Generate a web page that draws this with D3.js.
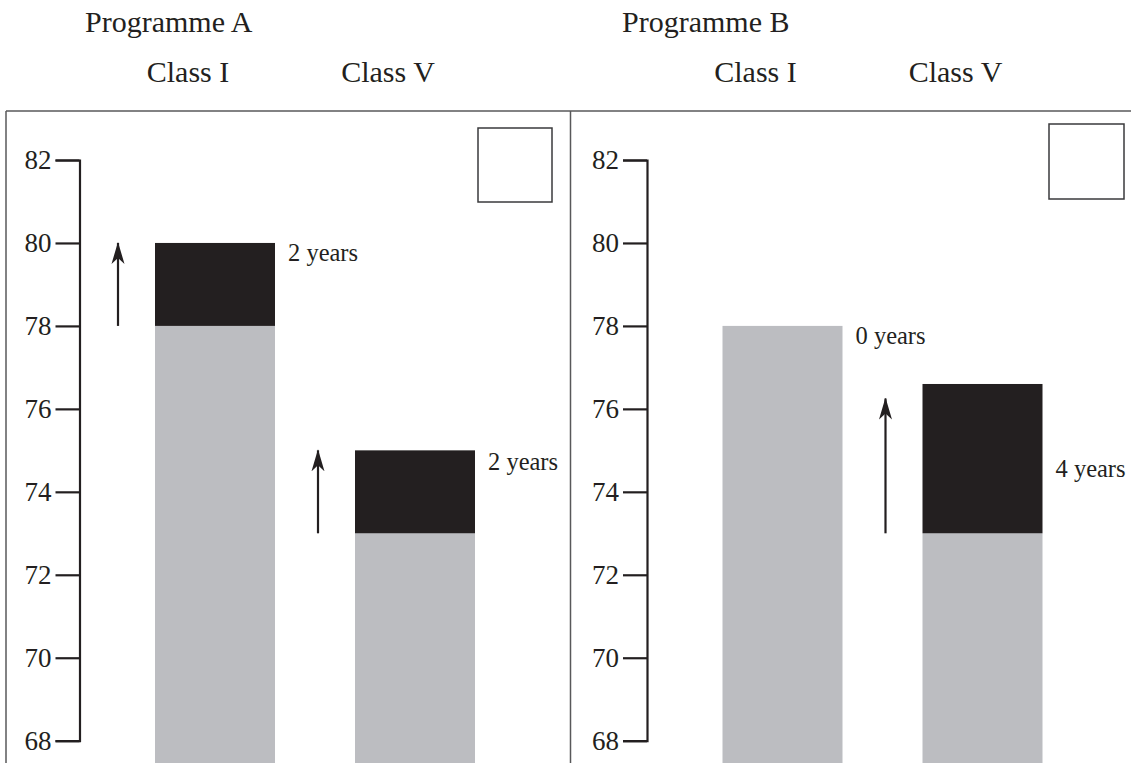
<!DOCTYPE html>
<html>
<head>
<meta charset="utf-8">
<script src="https://cdn.jsdelivr.net/npm/d3@7"></script>
<style>
  html, body { margin: 0; padding: 0; background: #fff; }
  svg { display: block; font-family: "Liberation Serif", "DejaVu Serif", serif; }
</style>
</head>
<body>
<div id="chart"></div>
<script>
// Data
const programmes = ["Programme A", "Programme B"]
const classes = ["Class I", "Class V"]
const baseValues = [[78, 73], [78, 73]]        // grey part (top value)
const topValues = [[80, 75], [78, 76.6]]       // black part reaches here
const arrowTo = [[80, 75], [null, 76.25]]      // arrow tip value
const gainLabels = [["2 years", "2 years"], ["0 years", "4 years"]]
const labelAt = [[79.76, 74.73], [77.78, 74.56]]
const yTicks = [68, 70, 72, 74, 76, 78, 80, 82]

const width = 1131
const height = 763
const ink = "#231f20"
const grey = "#bcbdc1"

// layout of the two panels
const panelShift = [0, 567.5]
const axisX = 79.5
const frameTop = 111

const svg = d3.select("#chart")
  .append("svg")
  .attr("width", width)
  .attr("height", height)

const y = d3.scaleLinear()
  .domain([68, 82])
  .range([740.7, 160])

const x = d3.scaleBand()
  .domain(classes)
  .range([155, 475])
  .paddingInner(0.4)
  .paddingOuter(0)

// arrow marker
svg.append("defs").append("marker")
  .attr("id", "head")
  .attr("viewBox", "0 0 22 14")
  .attr("refX", 21)
  .attr("refY", 7)
  .attr("markerWidth", 22)
  .attr("markerHeight", 14)
  .attr("markerUnits", "userSpaceOnUse")
  .attr("orient", "auto")
  .append("path")
  .attr("d", "M0,0.5 L22,7 L0,13.5 L6,7 Z")
  .attr("fill", ink)

// frame
const frame = svg.append("g")
  .attr("stroke", "#58585a")
  .attr("stroke-width", 1.5)
frame.append("line").attr("x1", 6).attr("x2", width).attr("y1", frameTop).attr("y2", frameTop)
frame.append("line").attr("x1", 6).attr("x2", 6).attr("y1", frameTop).attr("y2", height)
frame.append("line").attr("x1", 570.5).attr("x2", 570.5).attr("y1", frameTop).attr("y2", height)

// programme titles
const titleX = [85, 622]
programmes.forEach((p, i) => {
  svg.append("text")
    .attr("x", titleX[i])
    .attr("y", 32)
    .attr("font-size", 30)
    .attr("fill", ink)
    .text(p)
})

const boxes = [[478, 128, 74], [1049, 124, 75]]

programmes.forEach((p, pi) => {
  const g = svg.append("g")
    .attr("transform", `translate(${panelShift[pi]},0)`)

  // class headers
  classes.forEach(c => {
    g.append("text")
      .attr("x", x(c) + x.bandwidth() / 2 - 27)
      .attr("y", 82)
      .attr("text-anchor", "middle")
      .attr("font-size", 30)
      .attr("fill", ink)
      .text(c)
  })

  // bars
  classes.forEach((c, ci) => {
    const base = baseValues[pi][ci]
    const top = topValues[pi][ci]

    g.append("rect")
      .attr("x", x(c))
      .attr("y", y(base))
      .attr("width", x.bandwidth())
      .attr("height", height - y(base))
      .attr("fill", grey)

    if (top > base) {
      g.append("rect")
        .attr("x", x(c))
        .attr("y", y(top))
        .attr("width", x.bandwidth())
        .attr("height", y(base) - y(top))
        .attr("fill", ink)
    }

    const tip = arrowTo[pi][ci]
    if (tip != null) {
      g.append("line")
        .attr("x1", x(c) - 37)
        .attr("x2", x(c) - 37)
        .attr("y1", y(base))
        .attr("y2", y(tip))
        .attr("stroke", ink)
        .attr("stroke-width", 2.2)
        .attr("marker-end", "url(#head)")
    }

    g.append("text")
      .attr("x", x(c) + x.bandwidth() + 13)
      .attr("y", y(labelAt[pi][ci]))
      .attr("dy", "0.35em")
      .attr("font-size", 24.5)
      .attr("fill", ink)
      .text(gainLabels[pi][ci])
  })

  // y axis with corner ends
  const axis = g.append("g")
    .attr("transform", `translate(${axisX},0)`)
    .call(d3.axisLeft(y).tickValues(yTicks).tickSize(24).tickSizeOuter(24).tickPadding(4))
  axis.selectAll("path, line")
    .attr("stroke", ink)
    .attr("stroke-width", 2.2)
  axis.selectAll("text")
    .attr("font-size", 27)
    .attr("font-family", "Liberation Serif, serif")
    .attr("fill", ink)

  // empty square
  const b = boxes[pi]
  svg.append("rect")
    .attr("x", b[0])
    .attr("y", b[1])
    .attr("width", b[2])
    .attr("height", b[2])
    .attr("fill", "none")
    .attr("stroke", "#3a3a3c")
    .attr("stroke-width", 1.5)
})
</script>
</body>
</html>
